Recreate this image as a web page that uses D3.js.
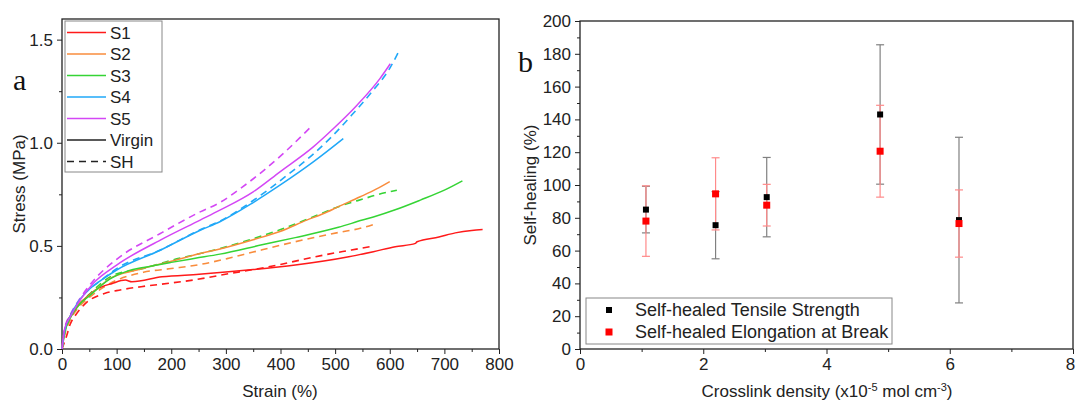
<!DOCTYPE html>
<html><head><meta charset="utf-8">
<script src="https://cdn.jsdelivr.net/npm/d3@7"></script>
<style>html,body{margin:0;padding:0;background:#fff;}svg{display:block;}</style>
</head><body>
<svg id="chart" width="1076" height="401"></svg>
<script>
// ---------- Panel a: stress-strain curves [strain %, stress MPa] ----------
const s1Virgin = [[0,0],[3,0.06],[8,0.12],[15,0.16],[25,0.2],[40,0.24],[61,0.286],[92,0.318],[116,0.334],[128,0.326],[183,0.35],[251,0.362],[305,0.374],[350,0.385],[427,0.407],[525,0.447],[570,0.472],[610,0.496],[647,0.512],[650,0.52],[690,0.543],[720,0.563],[750,0.575],[770,0.579]];
const s1SH = [[0,0],[8,0.06],[15,0.12],[25,0.165],[43,0.221],[79,0.27],[100,0.283],[153,0.305],[200,0.32],[244,0.336],[305,0.365],[350,0.385],[400,0.41],[434,0.43],[488,0.46],[530,0.48],[571,0.5]];
const s2Virgin = [[0,0],[5,0.08],[15,0.15],[30,0.21],[50,0.26],[70,0.305],[88,0.342],[137,0.383],[200,0.425],[253,0.463],[289,0.485],[350,0.53],[399,0.57],[448,0.625],[479,0.657],[506,0.69],[546,0.738],[575,0.775],[600,0.812]];
const s2SH = [[0,0],[5,0.07],[15,0.14],[30,0.2],[50,0.25],[88,0.318],[149,0.372],[200,0.39],[253,0.41],[305,0.44],[350,0.47],[427,0.52],[506,0.565],[546,0.585],[574,0.607]];
const s3Virgin = [[0,0],[5,0.08],[15,0.15],[30,0.21],[51,0.26],[88,0.34],[122,0.38],[149,0.395],[200,0.42],[244,0.44],[289,0.46],[366,0.505],[427,0.54],[506,0.59],[550,0.625],[570,0.64],[610,0.675],[656,0.722],[700,0.77],[733,0.815]];
const s3SH = [[0,0],[5,0.08],[15,0.15],[30,0.21],[50,0.265],[94,0.358],[149,0.39],[200,0.43],[253,0.463],[289,0.487],[350,0.535],[399,0.578],[450,0.63],[506,0.69],[552,0.728],[580,0.75],[613,0.77]];
const s4Virgin = [[0,0],[5,0.09],[15,0.16],[30,0.23],[50,0.29],[70,0.33],[100,0.383],[180,0.479],[253,0.576],[289,0.617],[350,0.71],[399,0.794],[460,0.907],[515,1.02]];
const s4SH = [[0,0],[5,0.09],[15,0.16],[30,0.23],[50,0.29],[70,0.33],[100,0.39],[180,0.48],[253,0.578],[289,0.62],[350,0.72],[411,0.84],[460,0.945],[494,1.03],[530,1.133],[567,1.246],[601,1.365],[616,1.44]];
const s5Virgin = [[0,0],[5,0.1],[15,0.156],[33,0.237],[57,0.318],[100,0.407],[180,0.528],[253,0.625],[289,0.673],[350,0.762],[399,0.859],[460,0.98],[497,1.069],[540,1.182],[582,1.311],[601,1.383]];
const s5SH = [[0,0],[5,0.1],[15,0.165],[33,0.245],[57,0.33],[100,0.435],[180,0.56],[253,0.665],[289,0.71],[330,0.785],[369,0.865],[408,0.955],[454,1.073]];

const sampleNames = ["S1","S2","S3","S4","S5"];
const sampleColors = ["#ff1a1a","#f98c3c","#35d435","#20a8f8","#d447f5"];
const virginCurves = [s1Virgin,s2Virgin,s3Virgin,s4Virgin,s5Virgin];
const shCurves = [s1SH,s2SH,s3SH,s4SH,s5SH];
const strainTicks = [0,100,200,300,400,500,600,700,800];
const stressTicks = [0,0.5,1.0,1.5];

// ---------- Panel b: self-healing vs crosslink density ----------
const crosslink = [1.07,2.2,3.03,4.87,6.15];
const tensile = [85,75.5,92.6,143,78.6];
const tensileErr = [14.2,20.5,24.2,42.5,50.5];
const elongation = [78,94.6,87.7,120.6,76.5];
const elongationErr = [21.5,22,12.7,28,20.5];
const densityTicks = [0,2,4,6,8];
const healTicks = [0,20,40,60,80,100,120,140,160,180,200];

const svg = d3.select("#chart");
const FONT = "'Liberation Sans', Arial, sans-serif";
const SERIF = "'Liberation Serif', 'Times New Roman', serif";

function drawAxes(x, y, majX, minX, majY, minY, fmtY) {
  const [x0,x1] = x.range(), [y0,y1] = y.range();
  const gx = svg.append("g").attr("transform",`translate(0,${y0})`);
  gx.call(d3.axisBottom(x).tickValues(minX).tickSize(3).tickFormat(""));
  gx.select(".domain").remove();
  const gx2 = svg.append("g").attr("transform",`translate(0,${y0})`);
  gx2.call(d3.axisBottom(x).tickValues(majX).tickSize(5).tickPadding(4).tickFormat(d3.format("d")));
  gx2.select(".domain").remove();
  const gy = svg.append("g").attr("transform",`translate(${x0},0)`);
  gy.call(d3.axisLeft(y).tickValues(minY).tickSize(3).tickFormat(""));
  gy.select(".domain").remove();
  const gy2 = svg.append("g").attr("transform",`translate(${x0},0)`);
  gy2.call(d3.axisLeft(y).tickValues(majY).tickSize(5).tickPadding(4).tickFormat(fmtY));
  gy2.select(".domain").remove();
  svg.selectAll(".tick line").attr("stroke","#222").attr("stroke-width",1);
  svg.selectAll(".tick text").attr("font-family",FONT).attr("font-size",17).attr("fill","#222");
  svg.append("rect").attr("x",x0).attr("y",y1).attr("width",x1-x0).attr("height",y0-y1)
    .attr("fill","none").attr("stroke","#222").attr("stroke-width",1.3);
  return gx2;
}

// ---- Panel a ----
const xL = d3.scaleLinear().domain([0,800]).range([62,499]);
const yL = d3.scaleLinear().domain([0,1.6]).range([349,19]);
drawAxes(xL, yL, strainTicks, d3.range(50,800,100), stressTicks, [0.25,0.75,1.25], d3.format(".1f"));

const line = d3.line().x(d=>xL(d[0])).y(d=>yL(d[1])).curve(d3.curveMonotoneX);
const curves = svg.append("g");
shCurves.forEach((c,i)=>{
  curves.append("path").datum(c).attr("d",line).attr("fill","none")
    .attr("stroke",sampleColors[i]).attr("stroke-width",1.6).attr("stroke-dasharray","7,5");
});
virginCurves.forEach((c,i)=>{
  curves.append("path").datum(c).attr("d",line).attr("fill","none")
    .attr("stroke",sampleColors[i]).attr("stroke-width",1.5);
});

// legend a
const legA = svg.append("g");
legA.append("rect").attr("x",65).attr("y",21).attr("width",97).attr("height",151)
  .attr("fill","#fff").attr("stroke","#888").attr("stroke-width",1);
const legItems = sampleNames.map((n,i)=>({label:n,color:sampleColors[i],dash:null}))
  .concat([{label:"Virgin",color:"#222",dash:null},{label:"SH",color:"#222",dash:"7,5"}]);
legItems.forEach((it,i)=>{
  const yy = 32.5 + i*21.5;
  legA.append("line").attr("x1",67).attr("x2",106).attr("y1",yy).attr("y2",yy)
    .attr("stroke",it.color).attr("stroke-width",1.6).attr("stroke-dasharray",it.dash);
  legA.append("text").attr("x",110).attr("y",yy).attr("dy","0.36em").text(it.label)
    .attr("font-family",FONT).attr("font-size",17).attr("fill","#222");
});

svg.append("text").attr("transform","translate(25,184) rotate(-90)").attr("text-anchor","middle")
  .attr("font-family",FONT).attr("font-size",17).attr("fill","#222").text("Stress (MPa)");
svg.append("text").attr("x",280).attr("y",397).attr("text-anchor","middle")
  .attr("font-family",FONT).attr("font-size",17).attr("fill","#222").text("Strain (%)");
svg.append("text").attr("x",13).attr("y",90).attr("font-family",SERIF).attr("font-size",30).attr("fill","#111").text("a");
svg.append("text").attr("x",518).attr("y",72).attr("font-family",SERIF).attr("font-size",30).attr("fill","#111").text("b");

// ---- Panel b ----
const xR = d3.scaleLinear().domain([0,8]).range([580,1073]);
const yR = d3.scaleLinear().domain([0,200]).range([349,21]);
const gxR = drawAxes(xR, yR, densityTicks, [1,3,5,7], healTicks, d3.range(10,200,20), d3.format("d"));
gxR.selectAll(".tick text").filter(d=>d===8).attr("dx",-3);

function errBars(vals, errs, color) {
  const g = svg.append("g").attr("stroke",color).attr("stroke-width",1.2);
  crosslink.forEach((c,i)=>{
    const cx = xR(c), lo = yR(vals[i]-errs[i]), hi = yR(vals[i]+errs[i]);
    g.append("line").attr("x1",cx).attr("x2",cx).attr("y1",lo).attr("y2",hi);
    g.append("line").attr("x1",cx-4).attr("x2",cx+4).attr("y1",lo).attr("y2",lo);
    g.append("line").attr("x1",cx-4).attr("x2",cx+4).attr("y1",hi).attr("y2",hi);
  });
}
errBars(tensile, tensileErr, "#808080");
errBars(elongation, elongationErr, "#ff8a8a");
function markers(vals, color, s) {
  svg.append("g").selectAll("rect").data(vals).join("rect")
    .attr("x",(d,i)=>xR(crosslink[i])-s/2).attr("y",d=>yR(d)-s/2)
    .attr("width",s).attr("height",s).attr("fill",color);
}
markers(tensile, "#000", 6);
markers(elongation, "#ff0000", 7);

// legend b
const legB = svg.append("g");
legB.append("rect").attr("x",586).attr("y",298).attr("width",306).attr("height",46)
  .attr("fill","#fff").attr("stroke","#888").attr("stroke-width",1);
[["Self-healed Tensile Strength","#000",6,310],["Self-healed Elongation at Break","#ff0000",7,332]].forEach(d=>{
  legB.append("rect").attr("x",609-d[2]/2).attr("y",d[3]-d[2]/2).attr("width",d[2]).attr("height",d[2]).attr("fill",d[1]);
  legB.append("text").attr("x",635).attr("y",d[3]).attr("dy","0.36em").text(d[0])
    .attr("font-family",FONT).attr("font-size",18).attr("fill","#222");
});

svg.append("text").attr("transform","translate(536,185) rotate(-90)").attr("text-anchor","middle")
  .attr("font-family",FONT).attr("font-size",17).attr("fill","#222").text("Self-healing (%)");
const xlab = svg.append("text").attr("x",827).attr("y",397).attr("text-anchor","middle")
  .attr("font-family",FONT).attr("font-size",17).attr("fill","#222");
xlab.append("tspan").text("Crosslink density (x10");
xlab.append("tspan").attr("font-size",11).attr("dy",-6).text("-5");
xlab.append("tspan").attr("dy",6).text(" mol cm");
xlab.append("tspan").attr("font-size",11).attr("dy",-6).text("-3");
xlab.append("tspan").attr("dy",6).text(")");
</script>
</body></html>
